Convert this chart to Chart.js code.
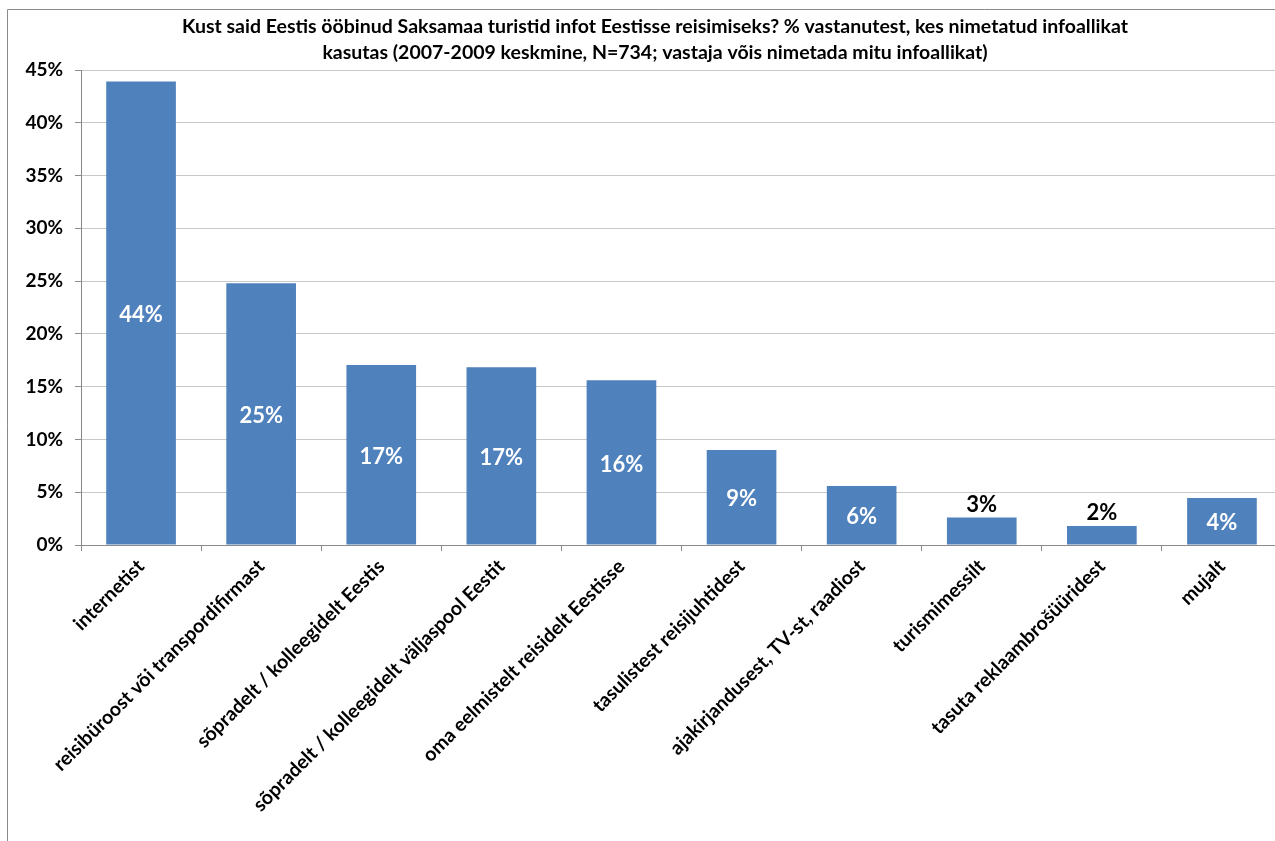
<!DOCTYPE html>
<html>
<head>
<meta charset="utf-8">
<script src="https://cdn.jsdelivr.net/npm/chart.js@4/dist/chart.umd.min.js"></script>
<style>
  html, body { margin: 0; padding: 0; background: #fff; overflow: hidden; width: 1275px; height: 841px; }
  #wrap { position: absolute; left: 0; top: 0; width: 1310px; height: 841px; }
</style>
</head>
<body>
<div id="wrap"><canvas id="c" width="1310" height="841"></canvas></div>
<script>
const categories = [
  "internetist",
  "reisibüroost või transpordifirmast",
  "sõpradelt / kolleegidelt Eestis",
  "sõpradelt / kolleegidelt väljaspool Eestit",
  "oma eelmistelt reisidelt Eestisse",
  "tasulistest reisijuhtidest",
  "ajakirjandusest, TV-st, raadiost",
  "turismimessilt",
  "tasuta reklaambrošüüridest",
  "mujalt"
];
const values = [43.9, 24.8, 17.05, 16.85, 15.6, 9.0, 5.6, 2.6, 1.8, 4.45];
const titleLines = [
  "Kust said Eestis ööbinud Saksamaa turistid infot Eestisse reisimiseks? % vastanutest, kes nimetatud infoallikat",
  "kasutas (2007-2009 keskmine, N=734; vastaja võis nimetada mitu infoallikat)"
];
const yMax = 45, yStep = 5;

const FONT = "Lato, 'Open Sans', sans-serif";

const framePlugin = {
  id: 'framePlugin',
  beforeDraw(chart) {
    const ctx = chart.ctx;
    ctx.save();
    ctx.strokeStyle = '#8a8a8a';
    ctx.lineWidth = 1;
    ctx.beginPath();
    ctx.moveTo(7.5, chart.height);
    ctx.lineTo(7.5, 9.5);
    ctx.lineTo(chart.width, 9.5);
    ctx.stroke();
    ctx.restore();
  }
};

const titlePlugin = {
  id: 'titlePlugin',
  afterDraw(chart) {
    const ctx = chart.ctx;
    ctx.save();
    ctx.font = "bold 19.5px " + FONT;
    ctx.fillStyle = '#000';
    ctx.textAlign = 'center';
    ctx.textBaseline = 'middle';
    ctx.fillText(titleLines[0], 655, 27);
    ctx.fillText(titleLines[1], 655, 53);
    ctx.restore();
  }
};

const valueLabels = {
  id: 'valueLabels',
  afterDatasetsDraw(chart) {
    const ctx = chart.ctx;
    const meta = chart.getDatasetMeta(0);
    ctx.save();
    ctx.font = "bold 22px " + FONT;
    ctx.textAlign = 'center';
    meta.data.forEach((bar, i) => {
      const v = chart.data.datasets[0].data[i];
      const txt = Math.round(v) + '%';
      const h = bar.base - bar.y;
      if (h < 35) {
        ctx.fillStyle = '#000';
        ctx.textBaseline = 'bottom';
        ctx.fillText(txt, bar.x, bar.y - 2);
      } else {
        ctx.fillStyle = '#fff';
        ctx.textBaseline = 'middle';
        ctx.fillText(txt, bar.x, (bar.y + bar.base) / 2 + 2);
      }
    });
    ctx.restore();
  }
};

new Chart(document.getElementById('c'), {
  type: 'bar',
  data: {
    labels: categories,
    datasets: [{
      data: values,
      backgroundColor: '#4F81BD',
      borderWidth: 0,
      categoryPercentage: 1.0,
      barPercentage: 0.58
    }]
  },
  plugins: [framePlugin, valueLabels, titlePlugin],
  options: {
    responsive: false,
    animation: false,
    layout: { padding: { left: 0, right: 28, top: 70, bottom: 0 } },
    plugins: {
      legend: { display: false },
      tooltip: { enabled: false },
      title: { display: false }
    },
    scales: {
      y: {
        min: 0, max: yMax,
        ticks: {
          stepSize: yStep,
          color: '#000',
          padding: 12,
          font: { family: FONT, size: 19, weight: 'bold' },
          callback: v => v + '%'
        },
        grid: { color: '#c8c8c8', tickLength: 6, tickColor: '#8a8a8a' },
        border: { color: '#8a8a8a', width: 1 },
        afterFit(scale) { scale.width = 81; }
      },
      x: {
        offset: true,
        ticks: {
          color: '#000',
          autoSkip: false,
          maxRotation: 45, minRotation: 45,
          padding: 4,
          font: { family: FONT, size: 19.5, weight: 'bold' }
        },
        grid: { offset: true, drawOnChartArea: false, drawTicks: true, tickLength: 6, color: '#8a8a8a' },
        border: { color: '#8a8a8a', width: 1 },
        afterFit(scale) { scale.height = 841 - 545; }
      }
    }
  }
});
</script>
</body>
</html>
